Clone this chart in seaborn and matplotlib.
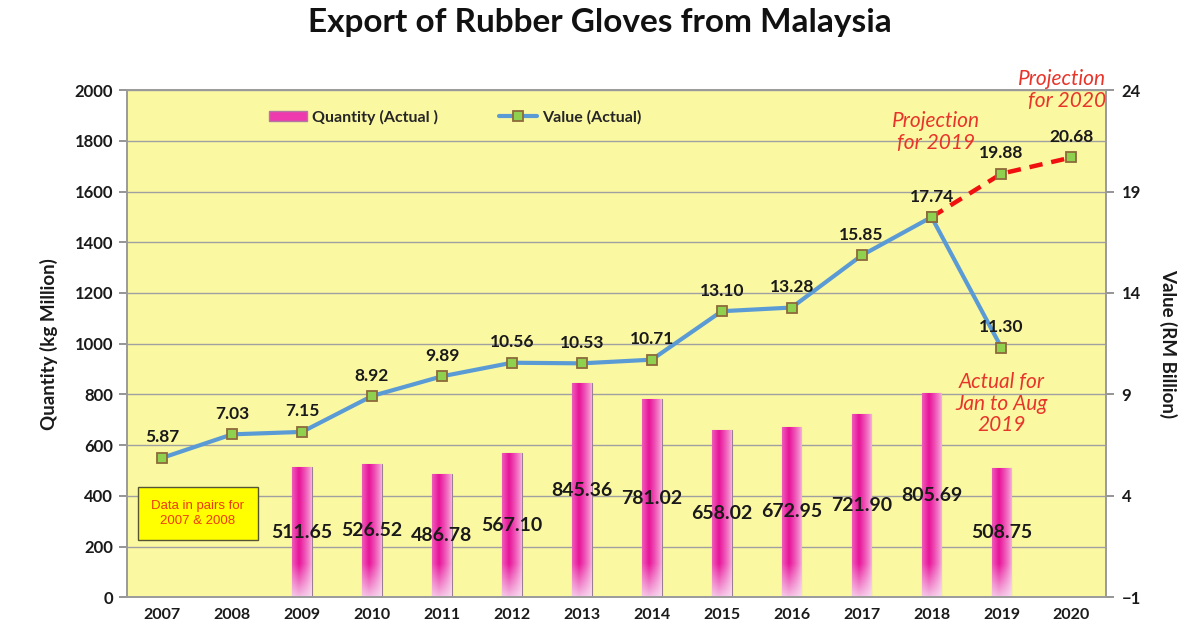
import numpy as np
import pandas as pd
import matplotlib
matplotlib.use("Agg")
from matplotlib import pyplot as plt
from matplotlib.colors import to_rgb
from matplotlib.patches import Patch
import seaborn as sns

# Data
years = ["2007", "2008", "2009", "2010", "2011", "2012", "2013",
         "2014", "2015", "2016", "2017", "2018", "2019", "2020"]
qty_years = ["2009", "2010", "2011", "2012", "2013", "2014",
             "2015", "2016", "2017", "2018", "2019"]
quantity = [511.65, 526.52, 486.78, 567.10, 845.36, 781.02,
            658.02, 672.95, 721.90, 805.69, 508.75]
value_years = years[:13]
value = [5.87, 7.03, 7.15, 8.92, 9.89, 10.56, 10.53,
         10.71, 13.10, 13.28, 15.85, 17.74, 11.30]
proj_years = ["2018", "2019", "2020"]
proj_value = [17.74, 19.88, 20.68]

sns.set_theme(style="white")
plt.rcParams["font.family"] = ["Lato", "DejaVu Sans"]

TXT = "#1a1a1a"
RED = "#E8352B"

fig = plt.figure(figsize=(12, 6.3), dpi=100)
ax = fig.add_axes([0.106, 0.052, 0.816, 0.805])
ax.set_facecolor("#FBF8A2")

bar_df = pd.DataFrame({"year": qty_years, "qty": quantity})
sns.barplot(data=bar_df, x="year", y="qty", order=years, color="#EC1C9C",
            width=0.28, edgecolor="#9a7f90", linewidth=0.8, ax=ax, zorder=2)

# pink gradient fill, clipped to each bar
c_dark = np.array(to_rgb("#E8149A"))
c_light = np.array(to_rgb("#F6B3DF"))
c_white = np.array(to_rgb("#F8E6F4"))
for p in ax.patches:
    x0, y0, w, h = p.get_x(), p.get_y(), p.get_width(), p.get_height()
    if not np.isfinite(h) or h <= 0:
        continue
    nx, ny = 40, 120
    t = np.linspace(0, 1, nx)
    k = np.clip(1 - np.abs(t - 0.35) / 0.65, 0, 1) ** 0.8
    row = c_light[None, :] * (1 - k[:, None]) + c_dark[None, :] * k[:, None]
    fy = np.linspace(0, 1, ny)  # 0 = top, 1 = bottom
    frac = 130.0 / h  # fade over lower part of the bar
    fade = np.clip((fy - (1 - frac)) / frac, 0, 1)[:, None, None] * 0.8
    img = row[None, :, :] * (1 - fade) + c_white[None, None, :] * fade
    im = ax.imshow(img, extent=[x0, x0 + w, y0, y0 + h], aspect="auto",
                   zorder=2.1, origin="upper")
    im.set_clip_path(p)

ax.bar_label(ax.containers[0], labels=[f"{q:.2f}" for q in quantity],
             label_type="center", fontsize=14, fontweight="bold",
             color=TXT, zorder=6)

ax.set_xlim(-0.5, len(years) - 0.5)
ax.set_ylim(0, 2000)
ax.set_yticks(range(0, 2001, 200))
ax.yaxis.grid(True, color="#a0a0a0", linewidth=1)
ax.set_axisbelow(True)
ax.set_xticks(range(len(years)))
ax.set_xticklabels(years, fontsize=11.5, fontweight="bold", color=TXT)
ax.set_xticks(np.arange(-0.5, len(years), 1), minor=True)
ax.tick_params(axis="x", which="major", length=0, pad=8)
ax.tick_params(axis="x", which="minor", length=6, color="#888888", direction="out")
ax.tick_params(axis="y", length=6, color="#888888", direction="out",
               labelsize=12, labelcolor=TXT, pad=4)
for lbl in ax.get_yticklabels():
    lbl.set_fontweight("bold")
ax.set_xlabel("")
ax.set_ylabel("Quantity (kg Million)", fontsize=13.5, fontweight="bold",
              color=TXT, labelpad=12)
for s in ax.spines.values():
    s.set_color("#9a9a9a")
    s.set_linewidth(1.2)

# secondary axis for value
ax2 = ax.twinx()
ax2.set_ylim(-1, 24)
ax2.set_yticks([-1, 4, 9, 14, 19, 24])
ax2.tick_params(axis="y", length=6, color="#888888", direction="out",
                labelsize=12, labelcolor=TXT, pad=5)
for lbl in ax2.get_yticklabels():
    lbl.set_fontweight("bold")
ax2.set_ylabel("Value (RM Billion)", fontsize=13.5, fontweight="bold",
               color=TXT, rotation=270, labelpad=26)
for s in ax2.spines.values():
    s.set_color("#9a9a9a")
    s.set_linewidth(1.2)

proj_x = [years.index(y) for y in proj_years]
val_x = [years.index(y) for y in value_years]
mk = dict(marker="s", markersize=7.5, markerfacecolor="#8FD14F",
          markeredgecolor="#8C6A3A", markeredgewidth=1.3)
sns.lineplot(x=proj_x, y=proj_value, ax=ax2, color="#F01010", linewidth=3.2,
             linestyle=(0, (3, 2)), zorder=3, **mk)
sns.lineplot(x=val_x, y=value, ax=ax2, color="#5B9BD5", linewidth=3,
             zorder=4, label="Value (Actual)", **mk)

for xi, v in zip(val_x + proj_x[1:], value + proj_value[1:]):
    ax2.annotate(f"{v:.2f}", (xi, v), xytext=(0, 9), textcoords="offset points",
                 ha="center", va="bottom", fontsize=12.5, fontweight="bold",
                 color=TXT, zorder=7)

# notes
note = dict(fontsize=15, fontstyle="italic", color=RED, linespacing=1.1)
ax2.text(years.index("2018") + 0.07, 20.9, "Projection\nfor 2019", ha="center",
         va="bottom", **note)
ax2.text(1.0, 1.0, "Projection\nfor 2020", transform=ax2.transAxes,
         ha="right", va="center", **note)
ax2.text(years.index("2019"), 10.1, "Actual for\nJan to Aug\n2019", ha="center",
         va="top", **note)

ax.text(0.51, 331, "Data in pairs for\n2007 & 2008", ha="center", va="center",
        fontsize=9.5, color="#F03A10", family=["Liberation Sans", "DejaVu Sans"],
        zorder=6, linespacing=1.3,
        bbox=dict(boxstyle="square,pad=1.0", facecolor="#FFFF00",
                  edgecolor="#555533", linewidth=1))

# legend
h2, l2 = ax2.get_legend_handles_labels()
bar_handle = Patch(facecolor="#EE3AAE", edgecolor="#b07aa0")
ax2.legend([bar_handle, h2[-1]], ["Quantity (Actual )", "Value (Actual)"],
           loc="upper left", bbox_to_anchor=(0.13, 0.99), ncol=2,
           frameon=False, prop=dict(weight="bold", size=11.5),
           handlelength=2.4, handleheight=0.6, columnspacing=3.8,
           handletextpad=0.3)

fig.text(0.5, 0.965, "Export of Rubber Gloves from Malaysia", ha="center",
         va="center", fontsize=24, fontweight="bold", color="#111111")

fig.savefig("out.png", dpi=100, facecolor="white")
